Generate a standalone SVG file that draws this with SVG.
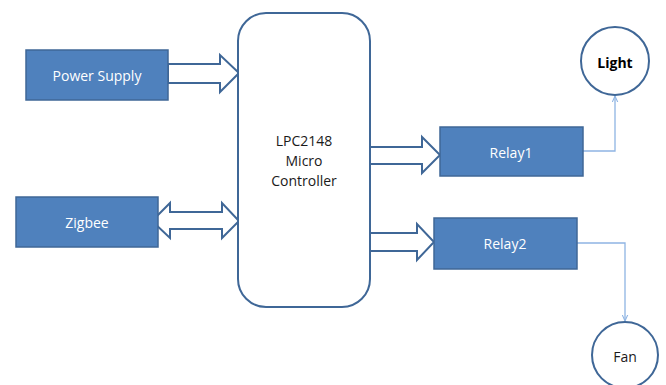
<svg xmlns="http://www.w3.org/2000/svg" width="666" height="385" viewBox="0 0 666 385">
<style>
.box{fill:#4f81bd;stroke:#3f6797;stroke-width:1.5}
.wt{fill:#ffffff;font-family:"Open Sans","Liberation Sans",sans-serif;font-size:14px;text-anchor:middle;dominant-baseline:central}
.dk{fill:#1a1a1a;font-family:"Open Sans","Liberation Sans",sans-serif;font-size:14px;text-anchor:middle;dominant-baseline:central}
.blk{fill:#fff;stroke:#3f6797;stroke-width:2;stroke-linejoin:miter}
.ln{fill:none;stroke:#8eb4e3;stroke-width:1.3}
.circ{fill:#fff;stroke:#3f6797;stroke-width:2}
</style>
<defs>
<marker id="ah" viewBox="0 0 10 10" refX="9" refY="5" markerWidth="7" markerHeight="7" orient="auto" markerUnits="userSpaceOnUse">
<path d="M0,1 L9,5 L0,9" fill="none" stroke="#8eb4e3" stroke-width="1.5"/>
</marker>
</defs>
<g id="connectors">
<path class="blk" d="M168,64 H220 V55 L239,73 L220,92 V83 H168 Z"/>
<path class="blk" d="M152,221 L170,203 V212 H222 V203 L239,221 L222,238 V229 H170 V238 Z"/>
<path class="blk" d="M370,147 H422 V137 L440,155 L422,173 V164 H370 Z"/>
<path class="blk" d="M370,233 H417 V224 L434,242 L417,260 V251 H370 Z"/>
<path class="ln" d="M583,151 H615 V96" marker-end="url(#ah)"/>
<path class="ln" d="M577,243 H625 V321" marker-end="url(#ah)"/>
</g>
<g id="power-supply">
<rect class="box" x="26" y="50" width="142" height="50"/>
<text class="wt" x="97" y="75">Power Supply</text>
</g>
<g id="zigbee">
<rect class="box" x="16" y="197" width="142" height="50"/>
<text class="wt" x="87" y="222">Zigbee</text>
</g>
<g id="mcu">
<rect x="238" y="13" width="132" height="294" rx="28" ry="28" fill="#fff" stroke="#3f6797" stroke-width="2"/>
<text class="dk" x="304" y="140">LPC2148</text>
<text class="dk" x="304" y="160">Micro</text>
<text class="dk" x="304" y="180">Controller</text>
</g>
<g id="relay1">
<rect class="box" x="440" y="127" width="143" height="49"/>
<text class="wt" x="511" y="152">Relay1</text>
</g>
<g id="relay2">
<rect class="box" x="434" y="218" width="143" height="51"/>
<text class="wt" x="505" y="243">Relay2</text>
</g>
<g id="light">
<circle class="circ" cx="615" cy="61" r="34"/>
<text class="dk" x="615" y="62" font-weight="bold" style="fill:#000">Light</text>
</g>
<g id="fan">
<circle class="circ" cx="625" cy="355" r="33"/>
<text class="dk" x="625" y="356">Fan</text>
</g>
</svg>
